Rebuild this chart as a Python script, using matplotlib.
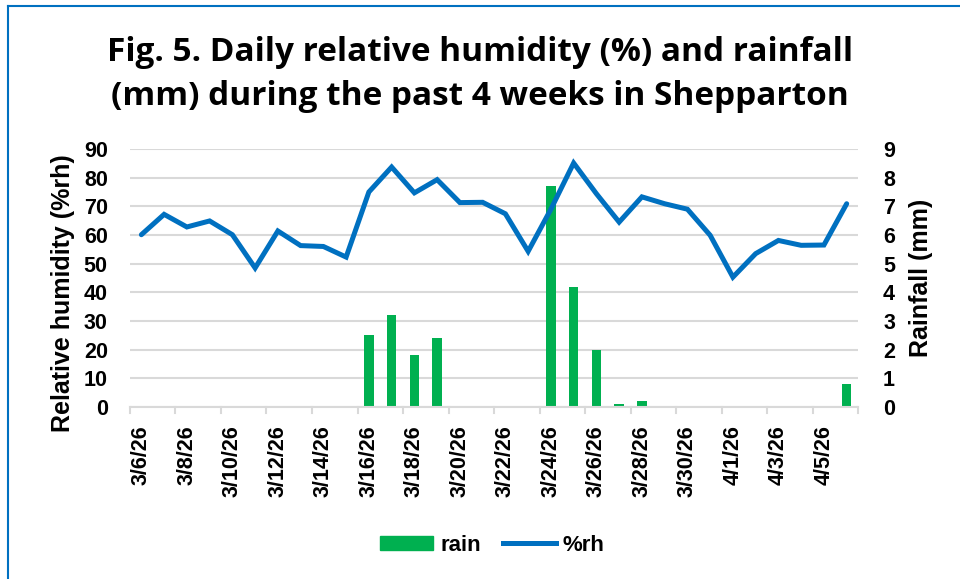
import matplotlib
matplotlib.use('Agg')
import matplotlib.pyplot as plt
from matplotlib.lines import Line2D
from matplotlib.patches import Patch

# daily dates, 3/6/26 .. 4/6/26
dates = ['3/6/26', '3/7/26', '3/8/26', '3/9/26', '3/10/26', '3/11/26', '3/12/26', '3/13/26',
         '3/14/26', '3/15/26', '3/16/26', '3/17/26', '3/18/26', '3/19/26', '3/20/26', '3/21/26',
         '3/22/26', '3/23/26', '3/24/26', '3/25/26', '3/26/26', '3/27/26', '3/28/26', '3/29/26',
         '3/30/26', '3/31/26', '4/1/26', '4/2/26', '4/3/26', '4/4/26', '4/5/26', '4/6/26']

# relative humidity (%rh)
rh = [60.1, 67.2, 62.8, 64.9, 60.1, 48.5, 61.4, 56.3,
      56.0, 52.3, 75.0, 83.7, 74.7, 79.3, 71.3, 71.4,
      67.4, 54.3, 69.0, 85.1, 74.4, 64.5, 73.3, 70.9,
      69.0, 59.9, 45.3, 53.5, 58.1, 56.4, 56.5, 70.9]

# rainfall (mm)
rain = [0, 0, 0, 0, 0, 0, 0, 0,
        0, 0, 2.5, 3.2, 1.8, 2.4, 0, 0,
        0, 0, 7.7, 4.2, 2.0, 0.1, 0.2, 0,
        0, 0, 0, 0, 0, 0, 0, 0.8]

blue = '#0070C0'
green = '#00B050'
grid_c = '#D9D9D9'
tick_font = ['Liberation Sans', 'DejaVu Sans']


def main():
    fig = plt.figure(figsize=(9.6, 5.79), dpi=100)
    ax = fig.add_axes([0.1354, 0.297, 0.7584, 0.4457])
    ax2 = ax.twinx()

    x = list(range(len(dates)))

    # rain on the secondary axis, drawn below the humidity line
    ax2.set_zorder(1)
    ax.set_zorder(2)
    ax.patch.set_visible(False)
    ax2.bar(x, rain, width=0.42, color=green, zorder=3)
    ax2.set_ylim(0, 9)
    ax2.set_yticks(range(0, 10))
    ax2.set_axisbelow(True)
    ax2.yaxis.grid(True, color=grid_c, lw=1.5)

    ax.plot(x, rh, color=blue, lw=3.6, solid_joinstyle='miter', solid_capstyle='round')
    ax.set_ylim(0, 90)
    ax.set_yticks(range(0, 91, 10))
    ax.set_xlim(-0.5, len(dates) - 0.5)

    # x labels every second day, tick marks between categories
    ax.set_xticks(x[::2])
    ax.set_xticklabels(dates[::2], rotation=90, fontsize=15.5, fontweight='bold',
                       family=tick_font, va='top')
    ax.tick_params(axis='x', length=0, pad=13)
    for t in range(0, len(dates) + 1, 2):
        ax.plot([t - 0.5, t - 0.5], [0, -2.0], color=grid_c, lw=1.5, clip_on=False)

    for a in (ax, ax2):
        for s in a.spines.values():
            s.set_visible(False)
        a.tick_params(axis='y', length=0, labelsize=15.5)
        for lab in a.get_yticklabels():
            lab.set_fontweight('bold')
            lab.set_family(tick_font)
    ax.tick_params(axis='y', pad=16)
    ax2.tick_params(axis='y', pad=18)
    ax.spines['bottom'].set_visible(True)
    ax.spines['bottom'].set_color(grid_c)
    ax.spines['bottom'].set_linewidth(1.5)

    ax.set_ylabel('Relative humidity (%rh)', fontsize=18, fontweight='bold',
                  family=tick_font)
    ax.yaxis.set_label_coords(-0.075, 0.44)
    ax2.set_ylabel('Rainfall (mm)', fontsize=18, fontweight='bold',
                   family=tick_font, labelpad=10)

    fig.text(0.5, 0.871, 'Fig. 5. Daily relative humidity (%) and rainfall\n'
                         '(mm) during the past 4 weeks in Shepparton',
             ha='center', va='center', fontsize=24, fontweight='bold',
             family=['Open Sans', 'DejaVu Sans'], linespacing=1.45)

    handles = [Patch(color=green, label='rain'),
               Line2D([0], [0], color=blue, lw=3.6, label='%rh')]
    fig.legend(handles=handles, loc='center', bbox_to_anchor=(0.513, 0.058), ncol=2,
               frameon=False, prop={'family': tick_font, 'weight': 'bold', 'size': 16},
               handlelength=2.4, handleheight=0.6, handletextpad=0.3, columnspacing=1.0)

    # chart border (left and top edges visible)
    fig.add_artist(Line2D([0.008, 0.008], [0, 0.99], color=blue, lw=1.5))
    fig.add_artist(Line2D([0.008, 1.0], [0.99, 0.99], color=blue, lw=1.5))

    fig.savefig('out.png', dpi=100)


if __name__ == '__main__':
    main()
